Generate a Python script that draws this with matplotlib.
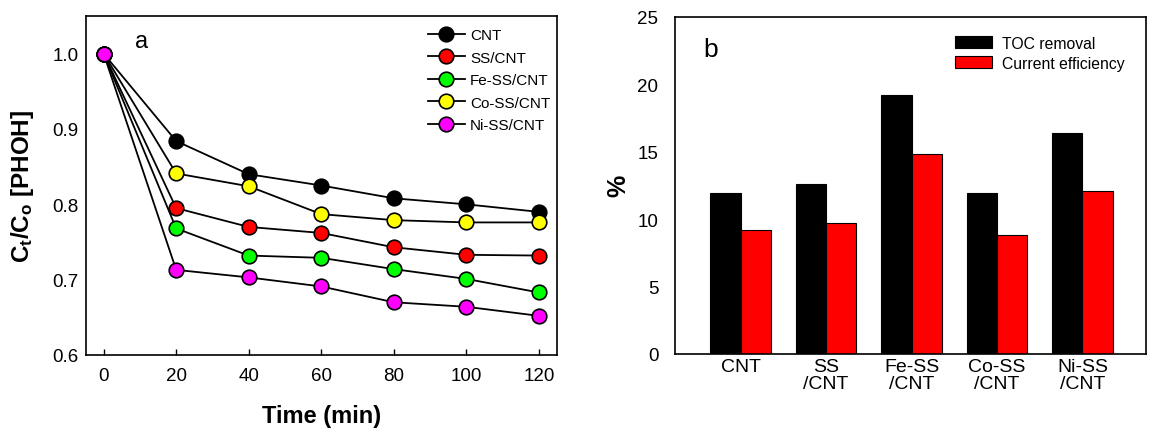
import numpy as np
import matplotlib
matplotlib.use('Agg')
from matplotlib import pyplot as plt

plt.rcParams['font.family'] = ['Liberation Sans', 'DejaVu Sans']
plt.rcParams['mathtext.fontset'] = 'custom'
plt.rcParams['mathtext.rm'] = 'Liberation Sans'
plt.rcParams['mathtext.bf'] = 'Liberation Sans:bold'

#%% data
time_min = [0, 20, 40, 60, 80, 100, 120]
series_names = ['CNT', 'SS/CNT', 'Fe-SS/CNT', 'Co-SS/CNT', 'Ni-SS/CNT']
cnt = [1.0, 0.884, 0.840, 0.825, 0.808, 0.800, 0.790]
ss_cnt = [1.0, 0.795, 0.770, 0.762, 0.743, 0.733, 0.732]
fe_ss_cnt = [1.0, 0.768, 0.732, 0.729, 0.714, 0.701, 0.683]
co_ss_cnt = [1.0, 0.841, 0.824, 0.787, 0.779, 0.776, 0.776]
ni_ss_cnt = [1.0, 0.713, 0.703, 0.691, 0.670, 0.664, 0.652]
series_colors = ['black', 'red', '#00ff00', 'yellow', '#ff00ff']

bar_labels = ['CNT', 'SS\n/CNT', 'Fe-SS\n/CNT', 'Co-SS\n/CNT', 'Ni-SS\n/CNT']
toc_removal = [11.9, 12.6, 19.2, 11.9, 16.4]
current_eff = [9.2, 9.7, 14.85, 8.85, 12.1]

#%% figure
fig = plt.figure(figsize=(11.58, 4.31), dpi=100)
W, H = 1158, 431
ax1 = fig.add_axes([85.5 / W, (H - 356) / H, (557 - 85.5) / W, (356 - 17) / H])
ax2 = fig.add_axes([675 / W, (H - 355) / H, (1145.7 - 675) / W, (355 - 17.7) / H])

# panel a
all_series = [cnt, ss_cnt, fe_ss_cnt, co_ss_cnt, ni_ss_cnt]
for name, vals, col in zip(series_names, all_series, series_colors):
    ax1.plot(time_min, vals, '-o', color='black', lw=1.3, ms=10.5,
             mfc=col, mec='black', mew=1.2, label=name)

ax1.set_xlim(-5, 125)
ax1.set_ylim(0.6, 1.05)
ax1.set_xticks(time_min)
ax1.set_yticks([0.6, 0.7, 0.8, 0.9, 1.0])
ax1.set_yticklabels(['0.6', '0.7', '0.8', '0.9', '1.0'])
ax1.tick_params(axis='x', direction='in', length=4, width=1, pad=9, labelsize=13.5)
ax1.tick_params(axis='y', length=0, pad=5, labelsize=13.5)
ax1.set_xlabel('Time (min)', fontsize=17, fontweight='bold', labelpad=14)
ax1.set_ylabel(r'$\mathbf{C_t/C_o}$ [PHOH]', fontsize=17.5, fontweight='bold', labelpad=12)
ax1.text(0.105, 0.926, 'a', transform=ax1.transAxes, fontsize=17, va='center')
ax1.legend(loc='upper right', bbox_to_anchor=(1.015, 1.005), frameon=False,
           fontsize=11, handlelength=2.4, labelspacing=0.56, handletextpad=0.35)

# panel b
x = np.arange(len(bar_labels))
bw = 0.355
ax2.bar(x - bw / 2, toc_removal, bw, color='black', edgecolor='black', lw=0.8,
        label='TOC removal')
ax2.bar(x + bw / 2, current_eff, bw, color='red', edgecolor='black', lw=0.8,
        label='Current efficiency')
ax2.set_xlim(-0.767, 4.74)
ax2.set_ylim(0, 25)
ax2.set_xticks(x)
ax2.set_xticklabels(bar_labels, fontsize=14, linespacing=1.0)
ax2.set_yticks([0, 5, 10, 15, 20, 25])
ax2.tick_params(axis='x', length=0, pad=3)
ax2.tick_params(axis='y', length=0, pad=12, labelsize=13.5)
ax2.set_ylabel('%', fontsize=18, fontweight='bold', labelpad=5)
ax2.text(0.06, 0.905, 'b', transform=ax2.transAxes, fontsize=19, va='center')
ax2.legend(loc='upper right', bbox_to_anchor=(0.985, 0.985), frameon=False,
           fontsize=11.3, handlelength=2.4, handleheight=0.8, labelspacing=0.3,
           handletextpad=0.6)

for ax in (ax1, ax2):
    for sp in ax.spines.values():
        sp.set_linewidth(1.2)

plt.savefig('out.png', dpi=100)
